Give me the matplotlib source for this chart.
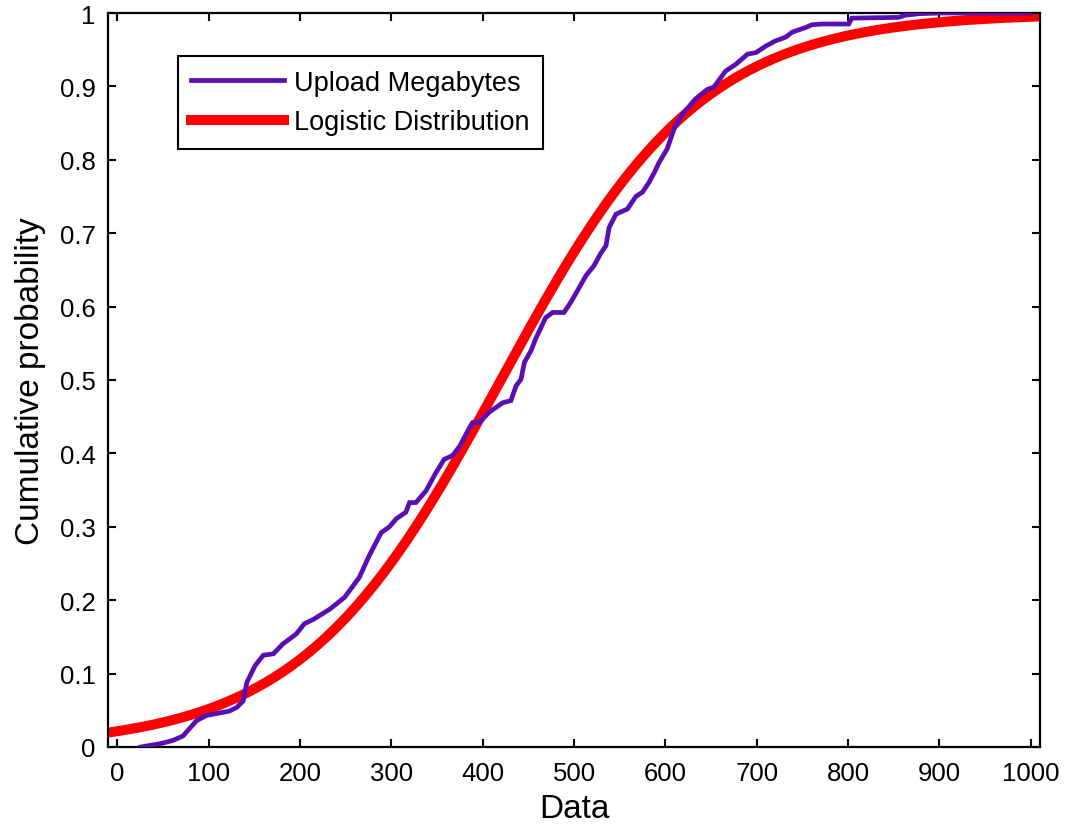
import numpy as np
import matplotlib
matplotlib.use("Agg")
import matplotlib.pyplot as plt

plt.rcParams['font.family'] = ['Liberation Sans', 'DejaVu Sans']

upload_x = [26, 49, 61, 72, 87, 98, 123, 131, 138, 142, 151, 160, 171, 181, 196, 205,
            215, 233, 240, 249, 265, 276, 289, 298, 305.5, 316, 320, 327, 338, 349,
            358, 367, 375, 386, 389, 396.5, 407, 422, 431, 436.6, 442, 445.7, 453,
            458, 469, 476.6, 489, 496.6, 505.7, 513, 522, 529, 535, 538.5, 546,
            558.5, 567.7, 575, 582, 588, 593, 602, 609.5, 618.6, 633, 646, 653,
            666, 677, 690, 699, 710, 720.5, 731.5, 739, 753, 760.6, 771.6, 800.6,
            804, 855, 862.6, 877, 900, 1000]
upload_y = [0.0, 0.005, 0.009, 0.015, 0.036, 0.043, 0.049, 0.054, 0.063, 0.088, 0.111,
            0.125, 0.127, 0.140, 0.154, 0.168, 0.174, 0.188, 0.195, 0.204, 0.231,
            0.261, 0.292, 0.300, 0.311, 0.320, 0.333, 0.333, 0.349, 0.374, 0.392,
            0.397, 0.410, 0.436, 0.442, 0.442, 0.456, 0.469, 0.472, 0.492, 0.501,
            0.524, 0.540, 0.556, 0.585, 0.592, 0.592, 0.606, 0.626, 0.642, 0.656,
            0.672, 0.683, 0.708, 0.726, 0.733, 0.750, 0.756, 0.769, 0.783, 0.796,
            0.815, 0.842, 0.862, 0.883, 0.896, 0.899, 0.921, 0.930, 0.944, 0.946,
            0.955, 0.962, 0.967, 0.974, 0.980, 0.984, 0.985, 0.985, 0.993, 0.994,
            0.997, 0.999, 1.0, 1.0]

# Fitted logistic distribution parameters
logistic_mu = 420.0
logistic_s = 110.0

x_ticks = [0, 100, 200, 300, 400, 500, 600, 700, 800, 900, 1000]
y_ticks = [0, 0.1, 0.2, 0.3, 0.4, 0.5, 0.6, 0.7, 0.8, 0.9, 1]
y_ticklabels = ['0', '0.1', '0.2', '0.3', '0.4', '0.5', '0.6', '0.7', '0.8', '0.9', '1']

fig = plt.figure(figsize=(10.65, 8.37), dpi=100)
ax = fig.add_axes([108/1065, 1 - 748/837, (1040-108)/1065, (748-14)/837])

xs = np.linspace(-10, 1010, 600)
fit = 1.0 / (1.0 + np.exp(-(xs - logistic_mu) / logistic_s))

ax.plot(upload_x, upload_y, color='#5a0db2', lw=3.4, label='Upload Megabytes',
        solid_joinstyle='miter', zorder=3)
ax.plot(xs, fit, color='#ff0000', lw=7.2, label='Logistic Distribution', zorder=2)

ax.set_xlim(-10, 1010)
ax.set_ylim(0, 1)
ax.set_xticks(x_ticks)
ax.set_yticks(y_ticks)
ax.set_yticklabels(y_ticklabels)
ax.tick_params(direction='in', length=6, width=1.5, top=True, right=True,
               labelsize=18.5, colors='black')
ax.tick_params(axis='x', pad=10)
ax.tick_params(axis='y', pad=9)
for sp in ax.spines.values():
    sp.set_linewidth(1.6)

ax.set_xlabel('Data', fontsize=24, labelpad=6)
ax.set_ylabel('Cumulative probability', fontsize=24, labelpad=10)

leg = ax.legend(loc='upper left', bbox_to_anchor=(0.075, 0.941), borderaxespad=0,
                fontsize=19.5, handlelength=3.4, handletextpad=0.4, borderpad=0.5,
                labelspacing=0.5, fancybox=False, framealpha=1)
leg.get_frame().set_edgecolor('black')
leg.get_frame().set_linewidth(1.5)

fig.savefig('out.png', dpi=100)
